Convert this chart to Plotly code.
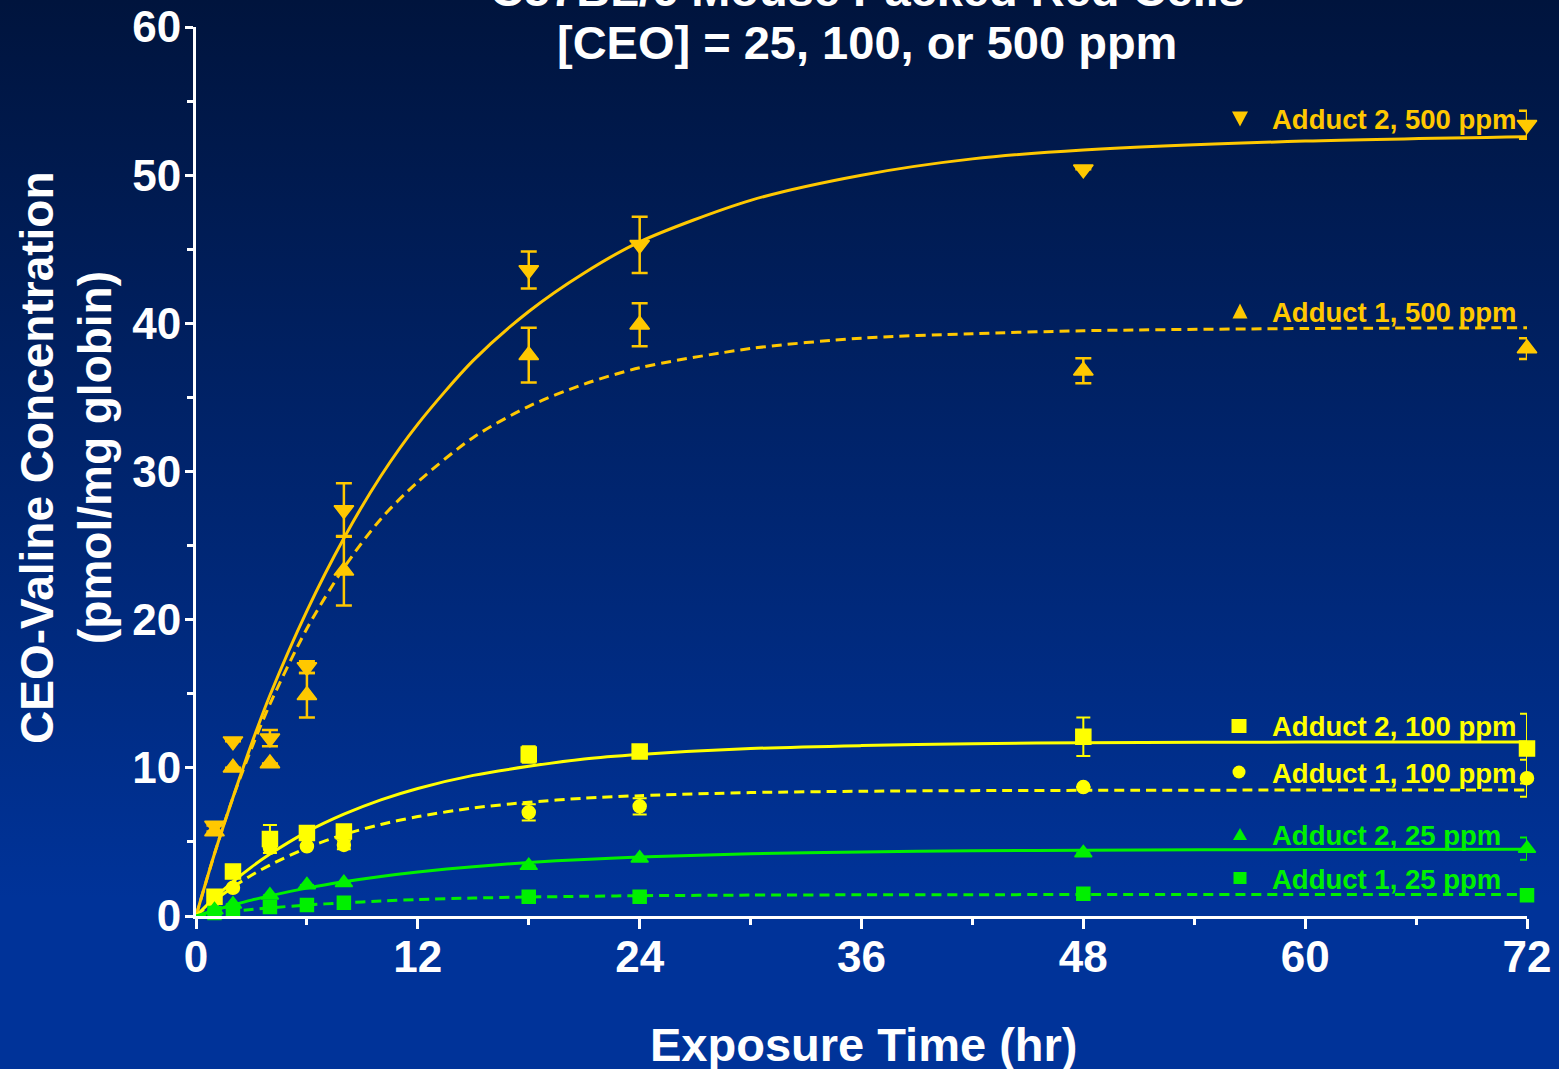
import base64
import plotly.graph_objects as go

# ---------------- data ----------------
time = [1, 2, 4, 6, 8, 18, 24, 48, 72]

a2_500 = [6.1, 11.8, 12.0, 16.8, 27.4, 43.6, 45.3, 50.4, 53.4]
a2_500_err = [None, None, 0.55, 0.4, 1.8, 1.25, 1.9, None, 0.95]
a1_500 = [5.7, 10.0, 10.3, 14.9, 23.3, 37.85, 39.9, 36.8, 38.3]
a1_500_err = [None, None, None, 1.5, 2.35, 1.85, 1.45, 0.85, 0.7]

a2_100 = [1.3, 3.0, 5.2, 5.6, 5.7, 10.9, 11.1, 12.1, 11.3]
a2_100_err = [None, None, 0.95, None, 0.45, 0.55, 0.4, 1.3, 2.35]
a1_100 = [1.1, 1.9, 4.6, 4.7, 4.8, 7.0, 7.4, 8.7, 9.3]
a1_100_err = [None, None, None, None, 0.3, 0.55, 0.55, None, 1.25]

a2_25 = [0.4, 0.8, 1.4, 2.1, 2.25, 3.4, 3.9, 4.25, 4.55]
a2_25_err = [None, None, None, None, None, None, None, None, 0.75]
a1_25 = [0.2, 0.35, 0.6, 0.75, 0.9, 1.3, 1.3, 1.5, 1.4]
a1_25_err = [None, None, None, None, None, None, None, None, None]

# fitted curves
fit_t = [0, 1, 2, 3, 4, 6, 8, 10, 12, 15, 18, 21, 24, 30, 36, 42, 48, 60, 72]
fit_a2_500 = [0, 4.2, 8.0, 11.6, 14.9, 20.6, 25.5, 29.7, 33.2, 37.5, 40.8, 43.4, 45.5, 48.3, 50.0, 51.1, 51.7, 52.3, 52.6]
fit_a1_500 = [0, 4.2, 8.0, 11.3, 14.3, 19.4, 23.5, 26.8, 29.3, 32.3, 34.4, 35.9, 37.0, 38.3, 39.0, 39.3, 39.5, 39.65, 39.7]
fit_a2_100 = [0, 1.22, 2.32, 3.30, 4.18, 5.68, 6.87, 7.84, 8.61, 9.49, 10.1, 10.6, 10.9, 11.3, 11.5, 11.63, 11.69, 11.74, 11.75]
fit_a1_100 = [0, 1.04, 1.95, 2.75, 3.44, 4.6, 5.5, 6.18, 6.71, 7.29, 7.68, 7.95, 8.12, 8.33, 8.42, 8.46, 8.48, 8.5, 8.5]
fit_a2_25 = [0, 0.39, 0.74, 1.07, 1.36, 1.88, 2.31, 2.67, 2.97, 3.33, 3.61, 3.82, 3.98, 4.2, 4.32, 4.4, 4.44, 4.48, 4.5]
fit_a1_25 = [0, 0.16, 0.31, 0.44, 0.55, 0.74, 0.89, 1.01, 1.11, 1.21, 1.28, 1.33, 1.37, 1.41, 1.43, 1.44, 1.445, 1.45, 1.45]

series_names = ["Adduct 2, 500 ppm", "Adduct 1, 500 ppm", "Adduct 2, 100 ppm",
                "Adduct 1, 100 ppm", "Adduct 2, 25 ppm", "Adduct 1, 25 ppm"]
x_ticks = [0, 12, 24, 36, 48, 60, 72]
y_ticks = [0, 10, 20, 30, 40, 50, 60]
title_line1 = "C57BL/6 Mouse Packed Red Cells"
title_line2 = "[CEO] = 25, 100, or 500 ppm"
x_title = "Exposure Time (hr)"
y_title1 = "CEO-Valine Concentration"
y_title2 = "(pmol/mg globin)"

# ---------------- styles ----------------
ORANGE = "#FFC800"
YELLOW = "#FFFF00"
GREEN = "#00F000"
FONT = "Liberation Sans, Arial, sans-serif"

W, H = 1559, 1069
ML, MR, MT, MB = 196, 32, 27, 153
PW, PH = W - ML - MR, H - MT - MB


def xr(px):
    return (px - ML) / PW


def yr(py):
    return (H - MB - py) / PH


series = [
    dict(y=a2_500, e=a2_500_err, fit=fit_a2_500, color=ORANGE, sym="triangle-down", size=17, dash="solid", et=2.5, ew=8),
    dict(y=a1_500, e=a1_500_err, fit=fit_a1_500, color=ORANGE, sym="triangle-up", size=17, dash="10px,6px", et=2.5, ew=8),
    dict(y=a2_100, e=a2_100_err, fit=fit_a2_100, color=YELLOW, sym="square", size=15, dash="solid", et=2, ew=7),
    dict(y=a1_100, e=a1_100_err, fit=fit_a1_100, color=YELLOW, sym="circle", size=13, dash="10px,6px", et=2, ew=7),
    dict(y=a2_25, e=a2_25_err, fit=fit_a2_25, color=GREEN, sym="triangle-up", size=15, dash="solid", et=2, ew=7),
    dict(y=a1_25, e=a1_25_err, fit=fit_a1_25, color=GREEN, sym="square", size=13, dash="10px,6px", et=2, ew=7),
]

fig = go.Figure()

for s, name in zip(series, series_names):
    fig.add_trace(go.Scatter(
        x=fit_t, y=s["fit"], mode="lines", name=name + " fit",
        line=dict(color=s["color"], width=3, dash=s["dash"], shape="spline", smoothing=0.8),
        hoverinfo="skip", cliponaxis=False))

for s, name in zip(series, series_names):
    fig.add_trace(go.Scatter(
        x=time, y=s["y"], mode="markers", name=name,
        marker=dict(symbol=s["sym"], size=s["size"], color=s["color"],
                    line=dict(color=s["color"], width=1.5)),
        error_y=dict(type="data", array=s["e"], visible=True, color=s["color"],
                     thickness=s["et"], width=s["ew"]),
        cliponaxis=False))

# background gradient
svg = ('<svg xmlns="http://www.w3.org/2000/svg" width="100" height="1000" viewBox="0 0 100 1000" '
       'preserveAspectRatio="none"><defs><linearGradient id="g" x1="0" y1="0" x2="0" y2="1">'
       '<stop offset="0" stop-color="#00143d"/><stop offset="0.84" stop-color="#003399"/>'
       '<stop offset="1" stop-color="#003399"/></linearGradient></defs>'
       '<rect x="0" y="0" width="100" height="1000" fill="url(#g)"/></svg>')
img_src = "data:image/svg+xml;base64," + base64.b64encode(svg.encode()).decode()

# legend keys (shapes) and labels
legend_pos = [
    (1240, 119, 16, 15, "down"),
    (1240, 311, 15, 15, "up"),
    (1239, 726, 15, 14, "square"),
    (1239, 772, 13, 13, "circle"),
    (1240, 834, 14, 12, "up"),
    (1240, 878, 13, 12, "square"),
]
shapes = []
annotations = []
for (cx, cy, w, h, kind), s, name in zip(legend_pos, series, series_names):
    c = s["color"]
    if kind == "circle":
        shapes.append(dict(type="circle", xref="paper", yref="paper",
                           x0=xr(cx - w / 2), x1=xr(cx + w / 2), y0=yr(cy + h / 2), y1=yr(cy - h / 2),
                           fillcolor=c, line=dict(width=0)))
    elif kind == "square":
        shapes.append(dict(type="rect", xref="paper", yref="paper",
                           x0=xr(cx - w / 2), x1=xr(cx + w / 2), y0=yr(cy + h / 2), y1=yr(cy - h / 2),
                           fillcolor=c, line=dict(width=0)))
    else:
        if kind == "down":
            pts = [(cx - w / 2, cy - h / 2), (cx + w / 2, cy - h / 2), (cx, cy + h / 2)]
        else:
            pts = [(cx - w / 2, cy + h / 2), (cx + w / 2, cy + h / 2), (cx, cy - h / 2)]
        path = "M " + " L ".join(f"{xr(px):.5f},{yr(py):.5f}" for px, py in pts) + " Z"
        shapes.append(dict(type="path", xref="paper", yref="paper", path=path,
                           fillcolor=c, line=dict(width=0)))
    annotations.append(dict(xref="paper", yref="paper", x=xr(1270), y=yr(cy + 1),
                            xanchor="left", yanchor="middle", text=name, showarrow=False,
                            font=dict(family=FONT, size=27.5, color=c, weight="bold")))

# titles
annotations += [
    dict(xref="paper", yref="paper", x=xr(867), y=yr(-10), xanchor="center", yanchor="middle",
         text=title_line1, showarrow=False, font=dict(family=FONT, size=47, color="white", weight="bold")),
    dict(xref="paper", yref="paper", x=xr(867), y=yr(42), xanchor="center", yanchor="middle",
         text=title_line2, showarrow=False, font=dict(family=FONT, size=47, color="white", weight="bold")),
    dict(xref="paper", yref="paper", x=xr(864), y=yr(1044), xanchor="center", yanchor="middle",
         text=x_title, showarrow=False, font=dict(family=FONT, size=47, color="white", weight="bold")),
    dict(xref="paper", yref="paper", x=xr(37), y=yr(458), xanchor="center", yanchor="middle",
         text=y_title1, textangle=-90, showarrow=False,
         font=dict(family=FONT, size=46, color="white", weight="bold")),
    dict(xref="paper", yref="paper", x=xr(95), y=yr(458), xanchor="center", yanchor="middle",
         text=y_title2, textangle=-90, showarrow=False,
         font=dict(family=FONT, size=46, color="white", weight="bold")),
]

axis_common = dict(
    ticks="outside", tickcolor="white", tickwidth=3, showline=True, linecolor="white",
    linewidth=3, showgrid=False, zeroline=False, automargin=False,
    tickfont=dict(family=FONT, size=44, color="white", weight="bold"),
)
fig.update_xaxes(range=[0, 72], tickvals=x_ticks, ticklen=10, ticklabelstandoff=-10,
                 minor=dict(dtick=6, tick0=0, ticks="outside", ticklen=6, tickwidth=3,
                            tickcolor="white", showgrid=False),
                 **axis_common)
fig.update_yaxes(range=[0, 60], tickvals=y_ticks, ticklen=8, ticklabelstandoff=-5,
                 minor=dict(dtick=5, tick0=0, ticks="outside", ticklen=6, tickwidth=3,
                            tickcolor="white", showgrid=False),
                 **axis_common)

fig.update_layout(
    width=W, height=H,
    margin=dict(l=ML, r=MR, t=MT, b=MB, pad=0, autoexpand=False),
    paper_bgcolor="#003399", plot_bgcolor="rgba(0,0,0,0)",
    showlegend=False,
    font=dict(family=FONT, color="white"),
    images=[dict(source=img_src, xref="paper", yref="paper", x=xr(0), y=yr(0),
                 sizex=xr(W) - xr(0), sizey=yr(0) - yr(H), sizing="stretch",
                 xanchor="left", yanchor="top", layer="below")],
    shapes=shapes,
    annotations=annotations,
)

fig.write_html("out.html", config={"displayModeBar": False},
               post_script="document.body.style.margin='0';")
